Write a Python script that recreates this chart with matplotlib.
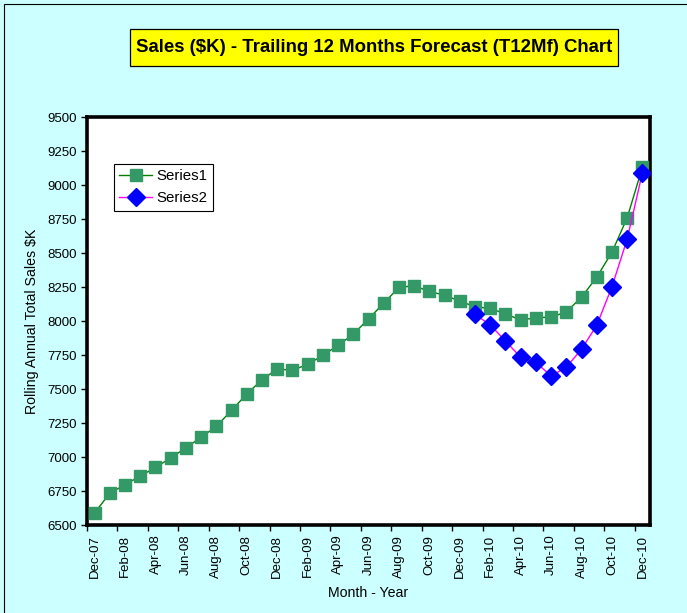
import numpy as np
import matplotlib
matplotlib.use("Agg")
import matplotlib.pyplot as plt
from matplotlib.patches import Rectangle

plt.rcParams["font.family"] = ["Liberation Sans", "DejaVu Sans"]

# Months Dec-07 .. Dec-10 (37 categories)
months = [
    "Dec-07", "Jan-08", "Feb-08", "Mar-08", "Apr-08", "May-08", "Jun-08",
    "Jul-08", "Aug-08", "Sep-08", "Oct-08", "Nov-08", "Dec-08", "Jan-09",
    "Feb-09", "Mar-09", "Apr-09", "May-09", "Jun-09", "Jul-09", "Aug-09",
    "Sep-09", "Oct-09", "Nov-09", "Dec-09", "Jan-10", "Feb-10", "Mar-10",
    "Apr-10", "May-10", "Jun-10", "Jul-10", "Aug-10", "Sep-10", "Oct-10",
    "Nov-10", "Dec-10",
]

series1 = [
    6590, 6733, 6797, 6860, 6923, 6993, 7068, 7145, 7225, 7343, 7463, 7568,
    7647, 7638, 7681, 7747, 7821, 7903, 8015, 8131, 8247, 8259, 8217, 8190,
    8146, 8105, 8092, 8053, 8007, 8024, 8029, 8066, 8175, 8322, 8506, 8759,
    9130,
]

# forecast series starts at Jan-10
series2_start = "Jan-10"
series2_vals = [8049, 7971, 7853, 7733, 7696, 7596, 7660, 7793, 7968, 8252,
                8602, 9090]

x = np.arange(len(months))
s2 = np.full(len(months), np.nan)
i0 = months.index(series2_start)
s2[i0:i0 + len(series2_vals)] = series2_vals

bg = "#CCFFFF"
W, H = 687, 613
fig = plt.figure(figsize=(W / 100, H / 100), dpi=100, facecolor=bg)
ax = fig.add_axes([87 / W, 1 - 525 / H, (650 - 87) / W, (525 - 117) / H])
ax.set_facecolor("white")

# thin frame around the chart area
fig.patches.append(Rectangle((4 / W, -0.05), 1.1, 1 - 4 / H + 0.05,
                             transform=fig.transFigure, fill=False,
                             edgecolor="black", linewidth=0.8))

ax.plot(x, series1, color="#008000", linewidth=1.0, marker="s",
        markersize=8.5, markerfacecolor="#339966", markeredgecolor="#339966",
        label="Series1", zorder=3)
ax.plot(x, s2, color="#FF00FF", linewidth=1.0, marker="D",
        markersize=9, markerfacecolor="#0000FF", markeredgecolor="#0000FF",
        label="Series2", zorder=4)

ax.set_xlim(-0.5, len(months) - 0.5)
ax.set_ylim(6500, 9500)
ax.set_yticks(np.arange(6500, 9501, 250))
ax.tick_params(axis="y", direction="out", length=4, width=1, labelsize=9.5,
               pad=3)

# labels on every second month, ticks between categories
ax.set_xticks(x[::2])
ax.set_xticklabels(months[::2], rotation=90, fontsize=9.5)
ax.set_xticks(np.arange(-0.5, len(months), 2), minor=True)
ax.tick_params(axis="x", which="major", length=0, pad=7)
ax.tick_params(axis="x", which="minor", direction="out", length=4, width=1)

for sp in ax.spines.values():
    sp.set_linewidth(2.6)
    sp.set_color("black")

ax.set_ylabel("Rolling Annual Total Sales \\$K", fontsize=10.2, labelpad=6)
ax.set_xlabel("Month - Year", fontsize=10.2, labelpad=6)

leg = ax.legend(loc="upper left", bbox_to_anchor=(27 / 563, 1 - 47 / 408),
                fontsize=10.8, frameon=True, fancybox=False, framealpha=1,
                edgecolor="black", handlelength=2.2, borderpad=0.35,
                labelspacing=0.55, handletextpad=0.3, borderaxespad=0)
leg.get_frame().set_linewidth(0.8)

# title in a yellow box
fig.patches.append(Rectangle((130 / W, 1 - 66 / H), (618 - 130) / W, 37 / H,
                             transform=fig.transFigure, facecolor="#FFFF00",
                             edgecolor="black", linewidth=0.9))
fig.text(374 / W, 1 - 47.5 / H,
         "Sales (\\$K) - Trailing 12 Months Forecast (T12Mf) Chart",
         ha="center", va="center", fontsize=13.4, fontweight="bold")

fig.savefig("out.png", dpi=100, facecolor=bg)
